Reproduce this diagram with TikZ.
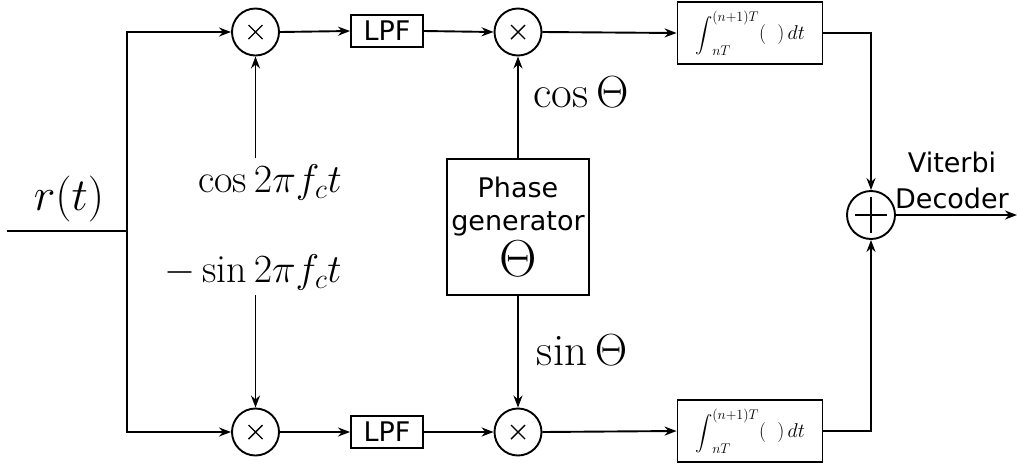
\RequirePackage{fix-cm}
\documentclass[tikz,border=0pt]{standalone}
\usepackage{exscale}
\usepackage{fontspec}
\setsansfont{DejaVu Sans}
\usetikzlibrary{arrows.meta,calc}
\newcommand{\myint}{\mathop{\hbox{\fontsize{18.5}{18.5}\selectfont$\displaystyle\int$}}\nolimits_{nT}^{(n+1)T}(\;\;)\,dt}
\begin{document}
\begin{tikzpicture}[x=1pt,y=-1pt,line width=1.9pt,
  arr/.style={-{Stealth[length=12pt,width=9pt]}},
  mult/.style={circle,draw,minimum size=47pt,inner sep=0pt,
    path picture={\draw[line width=1.4pt] ($(path picture bounding box.center)+(-7,-7)$) -- ++(14,14)
      ($(path picture bounding box.center)+(-7,7)$) -- ++(14,-14);}},
  adder/.style={circle,draw,minimum size=48pt,inner sep=0pt,
    path picture={\draw[line width=1.4pt] ($(path picture bounding box.center)+(-16,0)$) -- ++(32,0)
      ($(path picture bounding box.center)+(0,-18)$) -- ++(0,36);}},
  lpfbox/.style={draw,minimum width=72pt,minimum height=32pt,inner sep=0pt,
    font=\sffamily\fontsize{27}{27}\selectfont},
  integ/.style={draw,minimum width=145pt,minimum height=62pt,inner sep=0pt,
    font=\fontsize{20}{20}\selectfont},
  biglbl/.style={font=\fontsize{40}{44}\selectfont,inner sep=0pt,anchor=base},
  sanslbl/.style={font=\sffamily\fontsize{27}{36}\selectfont,inner sep=0pt,align=center}
]
\useasboundingbox (0,0) rectangle (1018,467);
% coordinates
\coordinate (in) at (7,231);
\coordinate (bus) at (127,231);
\coordinate (out) at (1017,215);
% nodes
\node[mult] (m1) at (255.5,32) {};
\node[lpfbox] (l1) at (387,31) {LPF};
\node[mult] (m2) at (518,32) {};
\node[integ] (i1) at (750,33) {$\myint$};
\node[mult] (m3) at (255.5,432) {};
\node[lpfbox] (l2) at (387,432) {LPF};
\node[mult] (m4) at (518,432) {};
\node[integ] (i2) at (750,431) {$\myint$};
\node[adder] (ad) at (871,215) {};
\node[draw,minimum width=142pt,minimum height=136pt,inner sep=0pt,align=center,
  font=\sffamily\fontsize{27}{33}\selectfont] (ph) at (518,227)
  {Phase\\generator\\[4pt]{\fontsize{52}{52}\selectfont$\Theta$}};
\node[biglbl] (rt) at (69,210) {\fontsize{46}{46}\selectfont$r(t)$};
\node[biglbl] (cl) at (270,192) {$\cos 2\pi f_c t$};
\node[biglbl] (sl) at (253,282) {$-\sin 2\pi f_c t$};
\node[biglbl,font=\fontsize{45}{45}\selectfont] (ct) at (581,107) {$\cos\Theta$};
\node[biglbl,font=\fontsize{45}{45}\selectfont] (st) at (582,365) {$\sin\Theta$};
\node[sanslbl,anchor=base] (vit) at (952,172) {Viterbi};
\node[sanslbl,anchor=base] (dec) at (952,208) {Decoder};
% connectors
\draw (in) -- (bus);
\draw[arr] (bus) |- (m1.west);
\draw[arr] (bus) |- (m3.west);
\draw[arr] (m1.east) -- (l1.west);
\draw[arr] (l1.east) -- (m2.west);
\draw[arr] (m2.east) -- (i1.west);
\draw[arr] (m3.east) -- (l2.west);
\draw[arr] (l2.east) -- (m4.west);
\draw[arr] (m4.east) -- (i2.west);
\draw[arr] (m1.south |- 0,158) -- (m1.south);
\draw[arr] (m3.north |- 0,295) -- (m3.north);
\draw[arr] (ph.north) -- (m2.south);
\draw[arr] (ph.south) -- (m4.north);
\draw[arr] (i1.east) -| (ad.north);
\draw[arr] (i2.east) -| (ad.south);
\draw[arr] (ad.east) -- (out);
\end{tikzpicture}
\end{document}
